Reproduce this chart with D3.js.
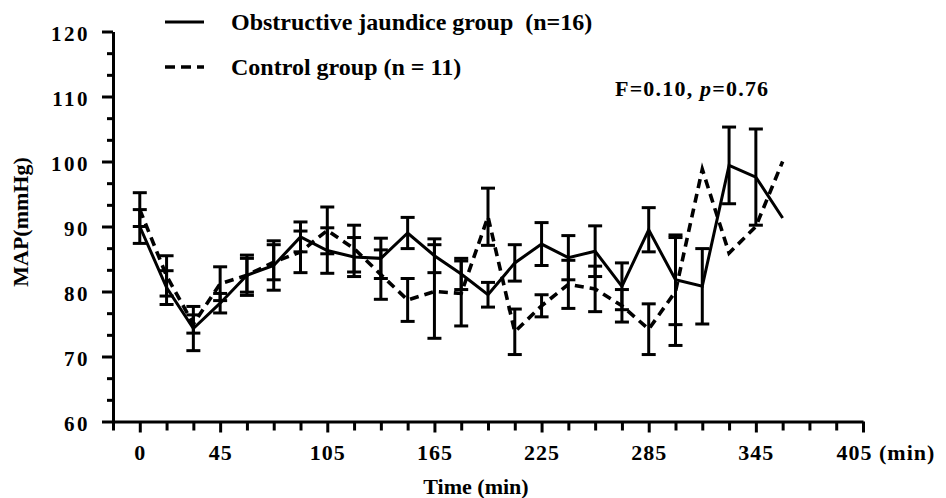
<!DOCTYPE html>
<html>
<head>
<meta charset="utf-8">
<script src="https://cdn.jsdelivr.net/npm/d3@7"></script>
<style>
  body { margin: 0; background: #fff; }
  svg { display: block; font-family: "Liberation Serif", "Times New Roman", serif; font-weight: bold; }
  .axis path, .axis line { stroke: #000; stroke-width: 3; }
  .axis text { font-family: "Liberation Serif", serif; font-weight: bold; fill: #000; }
</style>
</head>
<body>
<svg width="946" height="498"></svg>
<script>
// sampling times (min)
var times = [0, 15, 30, 45, 60, 75, 90, 105, 120, 135, 150, 165, 180,
  195, 210, 225, 240, 255, 270, 285, 300, 315, 330, 345, 360];

// obstructive jaundice group: mean and error (mmHg)
var ojMean = [90.0, 80.6, 74.3, 78.2, 82.5, 84.0, 88.4, 86.3, 85.3, 85.1, 89.0, 85.5, 82.7,
  79.5, 84.4, 87.3, 85.2, 86.2, 80.8, 89.5, 81.8, 80.8, 99.4, 97.6, 91.3];
var ojErr = [2.6, 2.6, 3.4, 1.5, 3.1, 3.8, 2.3, 3.5, 3.0, 3.1, 2.4, 2.6, 2.4,
  1.9, 2.8, 3.3, 3.4, 3.9, 3.6, 3.4, 6.9, 5.8, 5.9, 7.4, 0];

// control group: mean and error (mmHg)
var ctMean = [92.6, 82.4, 75.0, 81.2, 82.5, 84.5, 86.1, 89.4, 86.6, 82.6, 78.7, 80.0, 79.7,
  91.5, 73.8, 77.8, 81.1, 80.4, 77.8, 74.2, 80.0, 98.8, 85.9, 90.0, 100.0];
var ctErr = [2.6, 3.1, 1.4, 2.6, 2.6, 2.7, 3.2, 3.6, 3.6, 3.8, 3.3, 7.2, 5.0,
  4.4, 3.5, 1.7, 3.7, 3.5, 2.5, 3.9, 8.3, 0, 0, 0, 0];

var xTicks = d3.range(-15, 406, 15);
var xLabels = [0, 45, 105, 165, 225, 285, 345, 405];
var yLabels = [60, 70, 80, 90, 100, 110, 120];

var svg = d3.select("svg");

// Scales
var xScale = d3.scaleLinear().domain([-15, 405]).range([113, 863]);
var yScale = d3.scaleLinear().domain([60, 120]).range([421.5, 31.5]);

// y axis, minor ticks every 10/3
var yMinor = d3.range(0, 19).map(function (i) { return 60 + i * 10 / 3; })
  .filter(function (v) { return Math.abs(v - Math.round(v / 10) * 10) > 0.01; });

svg.append("g")
  .attr("class", "axis")
  .attr("transform", "translate(113,0)")
  .call(d3.axisLeft(yScale).tickValues(yMinor).tickSize(6).tickSizeOuter(0).tickFormat(""));

var yAxis = svg.append("g")
  .attr("class", "axis")
  .attr("transform", "translate(113,0)")
  .call(d3.axisLeft(yScale).tickValues(yLabels).tickSize(11).tickSizeOuter(0).tickPadding(12));
yAxis.selectAll("text").attr("font-size", 21).attr("letter-spacing", 2.5).attr("dy", "0.42em");

// x axis
svg.append("g")
  .attr("class", "axis")
  .attr("transform", "translate(0,421.5)")
  .call(d3.axisBottom(xScale)
    .tickValues(xTicks.filter(function (t) { return xLabels.indexOf(t) < 0; }))
    .tickSize(9).tickSizeOuter(0).tickFormat(""));

var xAxis = svg.append("g")
  .attr("class", "axis")
  .attr("transform", "translate(0,421.5)")
  .call(d3.axisBottom(xScale).tickValues(xLabels).tickSize(11).tickSizeOuter(0).tickPadding(12));
xAxis.select(".domain").remove();
xAxis.selectAll("text")
  .attr("font-size", 22)
  .attr("letter-spacing", 1)
  .attr("dy", "0.71em");
// last label carries the unit and sits a little to the left
xAxis.selectAll(".tick").filter(function (d) { return d === 405; }).select("text")
  .attr("text-anchor", "start")
  .attr("x", -27)
  .text("405 (min)");

// lines
var solidLine = d3.line()
  .x(function (d, i) { return xScale(times[i]); })
  .y(function (d) { return yScale(d); });

svg.append("path")
  .datum(ctMean)
  .attr("fill", "none")
  .attr("stroke", "#000")
  .attr("stroke-width", 3.6)
  .attr("stroke-dasharray", "9,6")
  .attr("d", solidLine);

svg.append("path")
  .datum(ojMean)
  .attr("fill", "none")
  .attr("stroke", "#000")
  .attr("stroke-width", 3)
  .attr("d", solidLine);

// error bars
function errorBars(means, errs) {
  var pts = times.map(function (t, i) { return { t: t, m: means[i], e: errs[i] }; })
    .filter(function (d) { return d.e > 0; });
  var g = svg.append("g").attr("stroke", "#000").attr("stroke-width", 3);
  g.selectAll(".bar").data(pts).enter().append("line")
    .attr("x1", function (d) { return xScale(d.t); })
    .attr("x2", function (d) { return xScale(d.t); })
    .attr("y1", function (d) { return yScale(d.m + d.e); })
    .attr("y2", function (d) { return yScale(d.m - d.e); });
  [1, -1].forEach(function (s) {
    g.selectAll(".cap" + s).data(pts).enter().append("line")
      .attr("x1", function (d) { return xScale(d.t) - 7; })
      .attr("x2", function (d) { return xScale(d.t) + 7; })
      .attr("y1", function (d) { return yScale(d.m + s * d.e); })
      .attr("y2", function (d) { return yScale(d.m + s * d.e); });
  });
}
errorBars(ctMean, ctErr);
errorBars(ojMean, ojErr);

// legend
svg.append("line").attr("x1", 165).attr("x2", 204).attr("y1", 22).attr("y2", 22)
  .attr("stroke", "#000").attr("stroke-width", 3);
svg.append("text").attr("x", 231).attr("y", 30).attr("font-size", 24)
  .text("Obstructive jaundice group\u00a0\u00a0(n=16)");
svg.append("line").attr("x1", 165).attr("x2", 204).attr("y1", 67).attr("y2", 67)
  .attr("stroke", "#000").attr("stroke-width", 3.6).attr("stroke-dasharray", "10,6");
svg.append("text").attr("x", 231).attr("y", 75).attr("font-size", 24)
  .text("Control group (n = 11)");

// statistics
var stat = svg.append("text").attr("x", 615).attr("y", 96).attr("font-size", 22).attr("letter-spacing", 1.2);
stat.append("tspan").text("F=0.10, ");
stat.append("tspan").attr("font-style", "italic").text("p");
stat.append("tspan").text("=0.76");

// axis titles
svg.append("text")
  .attr("transform", "translate(28,222) rotate(-90)")
  .attr("text-anchor", "middle")
  .attr("font-size", 22)
  .text("MAP(mmHg)");

svg.append("text")
  .attr("x", 476).attr("y", 494)
  .attr("text-anchor", "middle")
  .attr("font-size", 22)
  .text("Time (min)");
</script>
</body>
</html>
